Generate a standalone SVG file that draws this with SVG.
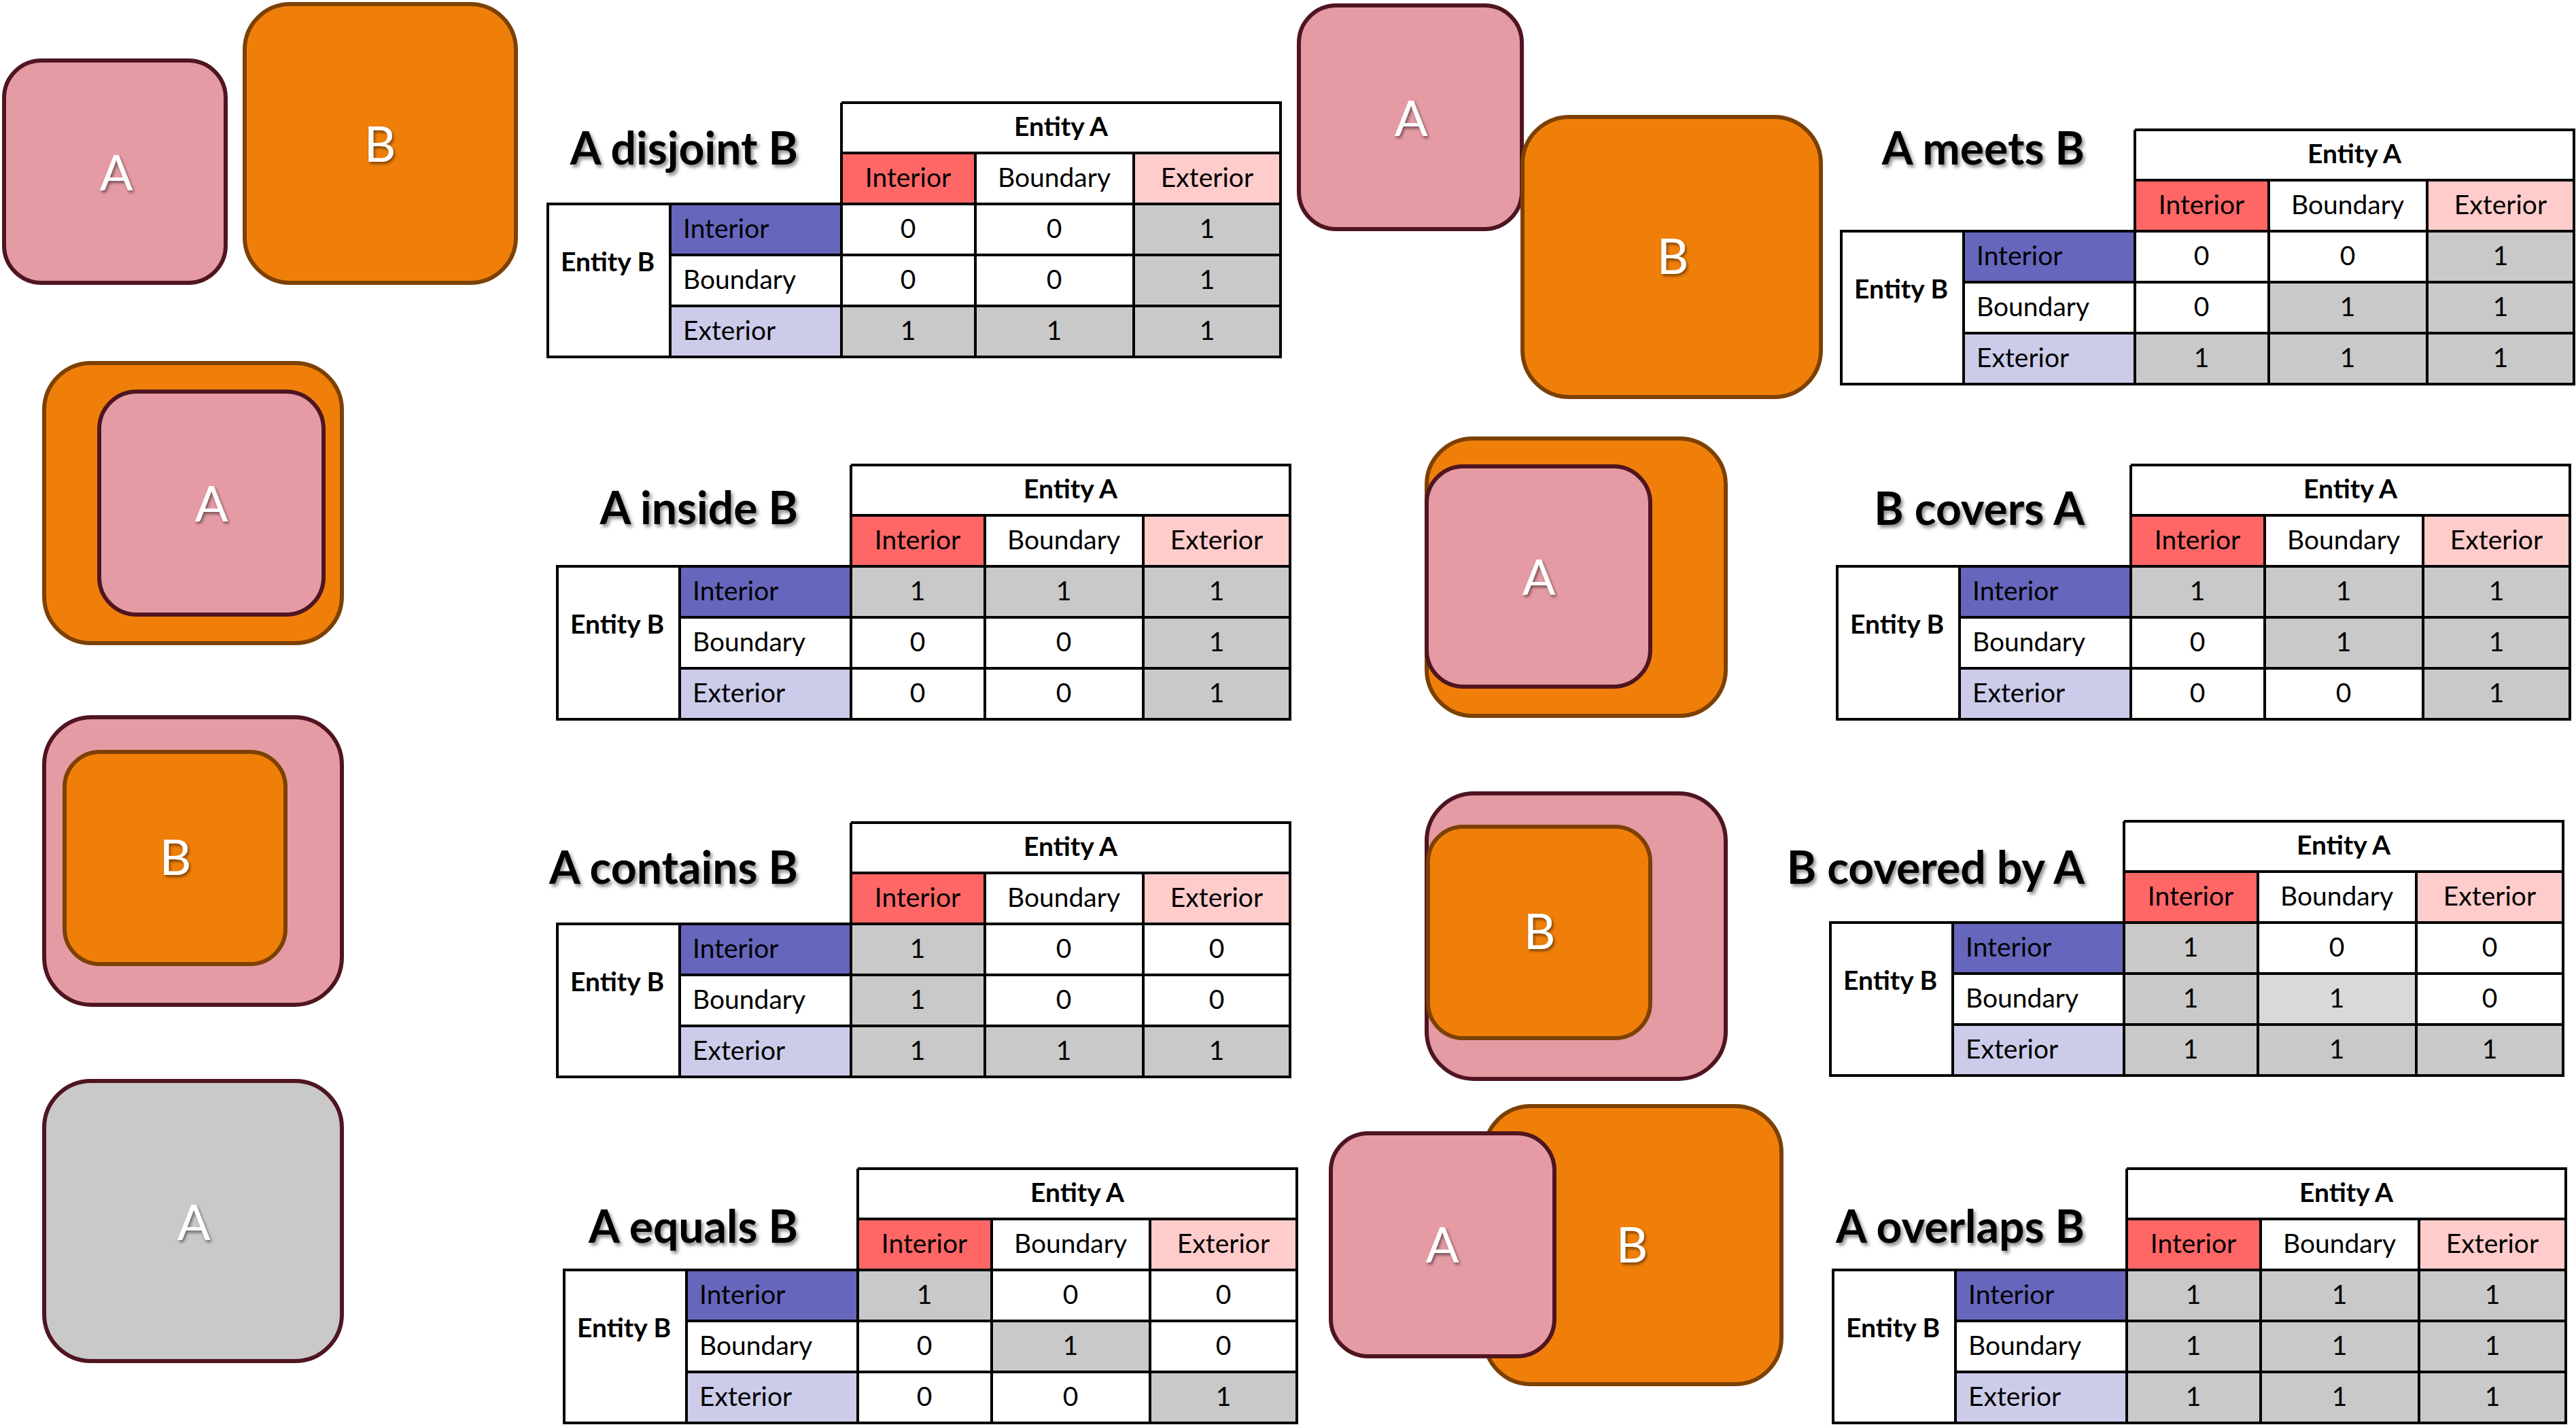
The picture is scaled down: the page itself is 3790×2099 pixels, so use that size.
<svg xmlns="http://www.w3.org/2000/svg" width="3790" height="2099" viewBox="0 0 3790 2099">
<defs>
<filter id="sh" x="-10%" y="-20%" width="130%" height="160%">
<feDropShadow dx="3" dy="4" stdDeviation="2.5" flood-color="#000" flood-opacity="0.45"/>
</filter>
<filter id="sh2" x="-20%" y="-20%" width="150%" height="150%">
<feDropShadow dx="2" dy="3" stdDeviation="2" flood-color="#000" flood-opacity="0.5"/>
</filter>
</defs>
<style>
text{font-family:Lato,"Liberation Sans",sans-serif;fill:#000}
.t{font-size:39px}
.m{text-anchor:middle}
.b{font-weight:bold}
.title{font-size:66px;font-weight:bold;text-anchor:end;filter:url(#sh)}
.lbl{font-size:72px;fill:#fff;text-anchor:middle;filter:url(#sh2)}
.w{fill:#fff}
.ci{fill:#FF6666}
.ce{fill:#FFCCCC}
.ri{fill:#6666BD}
.re{fill:#CCCCEA}
.g{fill:#C9C9C9}
.gl{fill:#D9D9D9}
.grid{fill:none;stroke:#000;stroke-width:4}
.pa{fill:#E59BA4;stroke:#4F1520;stroke-width:6}
.ob{fill:#F07F0A;stroke:#7C4103;stroke-width:6}
.gr{fill:#C9C9C9;stroke:#4F1520;stroke-width:6}
</style>

<!-- Shapes -->
<g id="shape-disjoint">
<rect class="pa" x="6" y="89" width="326" height="327" rx="55"/>
<text class="lbl" x="171" y="280">A</text>
<rect class="ob" x="360" y="6" width="399" height="410" rx="67"/>
<text class="lbl" x="559" y="238">B</text>
</g>
<g id="shape-meets">
<rect class="pa" x="1911" y="8" width="328" height="329" rx="55"/>
<text class="lbl" x="2076" y="200">A</text>
<rect class="ob" x="2240" y="172" width="439" height="412" rx="69"/>
<text class="lbl" x="2461" y="403">B</text>
</g>
<g id="shape-inside">
<rect class="ob" x="65" y="534" width="438" height="412" rx="69"/>
<rect class="pa" x="146" y="576" width="330" height="328" rx="55"/>
<text class="lbl" x="311" y="767">A</text>
</g>
<g id="shape-covers">
<rect class="ob" x="2099" y="645" width="440" height="408" rx="68"/>
<rect class="pa" x="2099" y="686" width="329" height="324" rx="54"/>
<text class="lbl" x="2264" y="875">A</text>
</g>
<g id="shape-contains">
<rect class="pa" x="65" y="1055" width="438" height="423" rx="70"/>
<rect class="ob" x="95" y="1106" width="325" height="312" rx="52"/>
<text class="lbl" x="258" y="1287">B</text>
</g>
<g id="shape-coveredby">
<rect class="pa" x="2099" y="1167" width="440" height="420" rx="70"/>
<rect class="ob" x="2101" y="1216" width="327" height="311" rx="52"/>
<text class="lbl" x="2265" y="1396">B</text>
</g>
<g id="shape-equals">
<rect class="gr" x="65" y="1590" width="438" height="412" rx="69"/>
<text class="lbl" x="285" y="1824">A</text>
</g>
<g id="shape-overlaps">
<rect class="ob" x="2184" y="1627" width="437" height="409" rx="68"/>
<rect class="pa" x="1958" y="1667" width="329" height="328" rx="55"/>
<text class="lbl" x="2122" y="1857">A</text>
<text class="lbl" x="2401" y="1857">B</text>
</g>

<!-- Titles -->
<g id="titles">
<text class="title" x="1174" y="242">A disjoint B</text>
<text class="title" x="1174" y="771">A inside B</text>
<text class="title" x="1174" y="1300">A contains B</text>
<text class="title" x="1174" y="1828">A equals B</text>
<text class="title" x="3067" y="242">A meets B</text>
<text class="title" x="3067" y="772">B covers A</text>
<text class="title" x="3067" y="1300">B covered by A</text>
<text class="title" x="3067" y="1828">A overlaps B</text>
</g>

<!-- Table 1: disjoint -->
<g id="table-disjoint" transform="translate(806,151)">
<rect class="w" x="432" y="0" width="646" height="74"/>
<rect class="ci" x="432" y="74" width="197" height="75"/><rect class="w" x="629" y="74" width="233" height="75"/><rect class="ce" x="862" y="74" width="216" height="75"/>
<rect class="w" x="0" y="149" width="180" height="225"/>
<rect class="ri" x="180" y="149" width="252" height="75"/><rect class="w" x="180" y="224" width="252" height="75"/><rect class="re" x="180" y="299" width="252" height="75"/>
<rect class="w" x="432" y="149" width="197" height="75"/><rect class="w" x="629" y="149" width="233" height="75"/><rect class="g" x="862" y="149" width="216" height="75"/>
<rect class="w" x="432" y="224" width="197" height="75"/><rect class="w" x="629" y="224" width="233" height="75"/><rect class="g" x="862" y="224" width="216" height="75"/>
<rect class="g" x="432" y="299" width="197" height="75"/><rect class="g" x="629" y="299" width="233" height="75"/><rect class="g" x="862" y="299" width="216" height="75"/>
<path class="grid" d="M432,0H1078V374H0V149H1078M432,0V374M432,74H1078M629,74V374M862,74V374M180,149V374M180,224H1078M180,299H1078"/>
<text class="t b m" x="755" y="49">Entity A</text>
<text class="t m" x="530" y="124">Interior</text><text class="t m" x="745" y="124">Boundary</text><text class="t m" x="970" y="124">Exterior</text>
<text class="t b" x="19" y="248">Entity B</text>
<text class="t" x="199" y="199">Interior</text><text class="t" x="199" y="274">Boundary</text><text class="t" x="199" y="349">Exterior</text>
<text class="t m" x="530" y="199">0</text><text class="t m" x="745" y="199">0</text><text class="t m" x="970" y="199">1</text>
<text class="t m" x="530" y="274">0</text><text class="t m" x="745" y="274">0</text><text class="t m" x="970" y="274">1</text>
<text class="t m" x="530" y="349">1</text><text class="t m" x="745" y="349">1</text><text class="t m" x="970" y="349">1</text>
</g>

<!-- Table 2: meets -->
<g id="table-meets" transform="translate(2709,191)">
<rect class="w" x="432" y="0" width="646" height="74"/>
<rect class="ci" x="432" y="74" width="197" height="75"/><rect class="w" x="629" y="74" width="233" height="75"/><rect class="ce" x="862" y="74" width="216" height="75"/>
<rect class="w" x="0" y="149" width="180" height="225"/>
<rect class="ri" x="180" y="149" width="252" height="75"/><rect class="w" x="180" y="224" width="252" height="75"/><rect class="re" x="180" y="299" width="252" height="75"/>
<rect class="w" x="432" y="149" width="197" height="75"/><rect class="w" x="629" y="149" width="233" height="75"/><rect class="g" x="862" y="149" width="216" height="75"/>
<rect class="w" x="432" y="224" width="197" height="75"/><rect class="g" x="629" y="224" width="233" height="75"/><rect class="g" x="862" y="224" width="216" height="75"/>
<rect class="g" x="432" y="299" width="197" height="75"/><rect class="g" x="629" y="299" width="233" height="75"/><rect class="g" x="862" y="299" width="216" height="75"/>
<path class="grid" d="M432,0H1078V374H0V149H1078M432,0V374M432,74H1078M629,74V374M862,74V374M180,149V374M180,224H1078M180,299H1078"/>
<text class="t b m" x="755" y="49">Entity A</text>
<text class="t m" x="530" y="124">Interior</text><text class="t m" x="745" y="124">Boundary</text><text class="t m" x="970" y="124">Exterior</text>
<text class="t b" x="19" y="248">Entity B</text>
<text class="t" x="199" y="199">Interior</text><text class="t" x="199" y="274">Boundary</text><text class="t" x="199" y="349">Exterior</text>
<text class="t m" x="530" y="199">0</text><text class="t m" x="745" y="199">0</text><text class="t m" x="970" y="199">1</text>
<text class="t m" x="530" y="274">0</text><text class="t m" x="745" y="274">1</text><text class="t m" x="970" y="274">1</text>
<text class="t m" x="530" y="349">1</text><text class="t m" x="745" y="349">1</text><text class="t m" x="970" y="349">1</text>
</g>

<!-- Table 3: inside -->
<g id="table-inside" transform="translate(820,684)">
<rect class="w" x="432" y="0" width="646" height="74"/>
<rect class="ci" x="432" y="74" width="197" height="75"/><rect class="w" x="629" y="74" width="233" height="75"/><rect class="ce" x="862" y="74" width="216" height="75"/>
<rect class="w" x="0" y="149" width="180" height="225"/>
<rect class="ri" x="180" y="149" width="252" height="75"/><rect class="w" x="180" y="224" width="252" height="75"/><rect class="re" x="180" y="299" width="252" height="75"/>
<rect class="g" x="432" y="149" width="197" height="75"/><rect class="g" x="629" y="149" width="233" height="75"/><rect class="g" x="862" y="149" width="216" height="75"/>
<rect class="w" x="432" y="224" width="197" height="75"/><rect class="w" x="629" y="224" width="233" height="75"/><rect class="g" x="862" y="224" width="216" height="75"/>
<rect class="w" x="432" y="299" width="197" height="75"/><rect class="w" x="629" y="299" width="233" height="75"/><rect class="g" x="862" y="299" width="216" height="75"/>
<path class="grid" d="M432,0H1078V374H0V149H1078M432,0V374M432,74H1078M629,74V374M862,74V374M180,149V374M180,224H1078M180,299H1078"/>
<text class="t b m" x="755" y="49">Entity A</text>
<text class="t m" x="530" y="124">Interior</text><text class="t m" x="745" y="124">Boundary</text><text class="t m" x="970" y="124">Exterior</text>
<text class="t b" x="19" y="248">Entity B</text>
<text class="t" x="199" y="199">Interior</text><text class="t" x="199" y="274">Boundary</text><text class="t" x="199" y="349">Exterior</text>
<text class="t m" x="530" y="199">1</text><text class="t m" x="745" y="199">1</text><text class="t m" x="970" y="199">1</text>
<text class="t m" x="530" y="274">0</text><text class="t m" x="745" y="274">0</text><text class="t m" x="970" y="274">1</text>
<text class="t m" x="530" y="349">0</text><text class="t m" x="745" y="349">0</text><text class="t m" x="970" y="349">1</text>
</g>

<!-- Table 4: covers -->
<g id="table-covers" transform="translate(2703,684)">
<rect class="w" x="432" y="0" width="646" height="74"/>
<rect class="ci" x="432" y="74" width="197" height="75"/><rect class="w" x="629" y="74" width="233" height="75"/><rect class="ce" x="862" y="74" width="216" height="75"/>
<rect class="w" x="0" y="149" width="180" height="225"/>
<rect class="ri" x="180" y="149" width="252" height="75"/><rect class="w" x="180" y="224" width="252" height="75"/><rect class="re" x="180" y="299" width="252" height="75"/>
<rect class="g" x="432" y="149" width="197" height="75"/><rect class="g" x="629" y="149" width="233" height="75"/><rect class="g" x="862" y="149" width="216" height="75"/>
<rect class="w" x="432" y="224" width="197" height="75"/><rect class="g" x="629" y="224" width="233" height="75"/><rect class="g" x="862" y="224" width="216" height="75"/>
<rect class="w" x="432" y="299" width="197" height="75"/><rect class="w" x="629" y="299" width="233" height="75"/><rect class="g" x="862" y="299" width="216" height="75"/>
<path class="grid" d="M432,0H1078V374H0V149H1078M432,0V374M432,74H1078M629,74V374M862,74V374M180,149V374M180,224H1078M180,299H1078"/>
<text class="t b m" x="755" y="49">Entity A</text>
<text class="t m" x="530" y="124">Interior</text><text class="t m" x="745" y="124">Boundary</text><text class="t m" x="970" y="124">Exterior</text>
<text class="t b" x="19" y="248">Entity B</text>
<text class="t" x="199" y="199">Interior</text><text class="t" x="199" y="274">Boundary</text><text class="t" x="199" y="349">Exterior</text>
<text class="t m" x="530" y="199">1</text><text class="t m" x="745" y="199">1</text><text class="t m" x="970" y="199">1</text>
<text class="t m" x="530" y="274">0</text><text class="t m" x="745" y="274">1</text><text class="t m" x="970" y="274">1</text>
<text class="t m" x="530" y="349">0</text><text class="t m" x="745" y="349">0</text><text class="t m" x="970" y="349">1</text>
</g>

<!-- Table 5: contains -->
<g id="table-contains" transform="translate(820,1210)">
<rect class="w" x="432" y="0" width="646" height="74"/>
<rect class="ci" x="432" y="74" width="197" height="75"/><rect class="w" x="629" y="74" width="233" height="75"/><rect class="ce" x="862" y="74" width="216" height="75"/>
<rect class="w" x="0" y="149" width="180" height="225"/>
<rect class="ri" x="180" y="149" width="252" height="75"/><rect class="w" x="180" y="224" width="252" height="75"/><rect class="re" x="180" y="299" width="252" height="75"/>
<rect class="g" x="432" y="149" width="197" height="75"/><rect class="w" x="629" y="149" width="233" height="75"/><rect class="w" x="862" y="149" width="216" height="75"/>
<rect class="g" x="432" y="224" width="197" height="75"/><rect class="w" x="629" y="224" width="233" height="75"/><rect class="w" x="862" y="224" width="216" height="75"/>
<rect class="g" x="432" y="299" width="197" height="75"/><rect class="g" x="629" y="299" width="233" height="75"/><rect class="g" x="862" y="299" width="216" height="75"/>
<path class="grid" d="M432,0H1078V374H0V149H1078M432,0V374M432,74H1078M629,74V374M862,74V374M180,149V374M180,224H1078M180,299H1078"/>
<text class="t b m" x="755" y="49">Entity A</text>
<text class="t m" x="530" y="124">Interior</text><text class="t m" x="745" y="124">Boundary</text><text class="t m" x="970" y="124">Exterior</text>
<text class="t b" x="19" y="248">Entity B</text>
<text class="t" x="199" y="199">Interior</text><text class="t" x="199" y="274">Boundary</text><text class="t" x="199" y="349">Exterior</text>
<text class="t m" x="530" y="199">1</text><text class="t m" x="745" y="199">0</text><text class="t m" x="970" y="199">0</text>
<text class="t m" x="530" y="274">1</text><text class="t m" x="745" y="274">0</text><text class="t m" x="970" y="274">0</text>
<text class="t m" x="530" y="349">1</text><text class="t m" x="745" y="349">1</text><text class="t m" x="970" y="349">1</text>
</g>

<!-- Table 6: covered by -->
<g id="table-coveredby" transform="translate(2693,1208)">
<rect class="w" x="432" y="0" width="646" height="74"/>
<rect class="ci" x="432" y="74" width="197" height="75"/><rect class="w" x="629" y="74" width="233" height="75"/><rect class="ce" x="862" y="74" width="216" height="75"/>
<rect class="w" x="0" y="149" width="180" height="225"/>
<rect class="ri" x="180" y="149" width="252" height="75"/><rect class="w" x="180" y="224" width="252" height="75"/><rect class="re" x="180" y="299" width="252" height="75"/>
<rect class="g" x="432" y="149" width="197" height="75"/><rect class="w" x="629" y="149" width="233" height="75"/><rect class="w" x="862" y="149" width="216" height="75"/>
<rect class="g" x="432" y="224" width="197" height="75"/><rect class="gl" x="629" y="224" width="233" height="75"/><rect class="w" x="862" y="224" width="216" height="75"/>
<rect class="g" x="432" y="299" width="197" height="75"/><rect class="g" x="629" y="299" width="233" height="75"/><rect class="g" x="862" y="299" width="216" height="75"/>
<path class="grid" d="M432,0H1078V374H0V149H1078M432,0V374M432,74H1078M629,74V374M862,74V374M180,149V374M180,224H1078M180,299H1078"/>
<text class="t b m" x="755" y="49">Entity A</text>
<text class="t m" x="530" y="124">Interior</text><text class="t m" x="745" y="124">Boundary</text><text class="t m" x="970" y="124">Exterior</text>
<text class="t b" x="19" y="248">Entity B</text>
<text class="t" x="199" y="199">Interior</text><text class="t" x="199" y="274">Boundary</text><text class="t" x="199" y="349">Exterior</text>
<text class="t m" x="530" y="199">1</text><text class="t m" x="745" y="199">0</text><text class="t m" x="970" y="199">0</text>
<text class="t m" x="530" y="274">1</text><text class="t m" x="745" y="274">1</text><text class="t m" x="970" y="274">0</text>
<text class="t m" x="530" y="349">1</text><text class="t m" x="745" y="349">1</text><text class="t m" x="970" y="349">1</text>
</g>

<!-- Table 7: equals -->
<g id="table-equals" transform="translate(830,1719)">
<rect class="w" x="432" y="0" width="646" height="74"/>
<rect class="ci" x="432" y="74" width="197" height="75"/><rect class="w" x="629" y="74" width="233" height="75"/><rect class="ce" x="862" y="74" width="216" height="75"/>
<rect class="w" x="0" y="149" width="180" height="225"/>
<rect class="ri" x="180" y="149" width="252" height="75"/><rect class="w" x="180" y="224" width="252" height="75"/><rect class="re" x="180" y="299" width="252" height="75"/>
<rect class="g" x="432" y="149" width="197" height="75"/><rect class="w" x="629" y="149" width="233" height="75"/><rect class="w" x="862" y="149" width="216" height="75"/>
<rect class="w" x="432" y="224" width="197" height="75"/><rect class="g" x="629" y="224" width="233" height="75"/><rect class="w" x="862" y="224" width="216" height="75"/>
<rect class="w" x="432" y="299" width="197" height="75"/><rect class="w" x="629" y="299" width="233" height="75"/><rect class="g" x="862" y="299" width="216" height="75"/>
<path class="grid" d="M432,0H1078V374H0V149H1078M432,0V374M432,74H1078M629,74V374M862,74V374M180,149V374M180,224H1078M180,299H1078"/>
<text class="t b m" x="755" y="49">Entity A</text>
<text class="t m" x="530" y="124">Interior</text><text class="t m" x="745" y="124">Boundary</text><text class="t m" x="970" y="124">Exterior</text>
<text class="t b" x="19" y="248">Entity B</text>
<text class="t" x="199" y="199">Interior</text><text class="t" x="199" y="274">Boundary</text><text class="t" x="199" y="349">Exterior</text>
<text class="t m" x="530" y="199">1</text><text class="t m" x="745" y="199">0</text><text class="t m" x="970" y="199">0</text>
<text class="t m" x="530" y="274">0</text><text class="t m" x="745" y="274">1</text><text class="t m" x="970" y="274">0</text>
<text class="t m" x="530" y="349">0</text><text class="t m" x="745" y="349">0</text><text class="t m" x="970" y="349">1</text>
</g>

<!-- Table 8: overlaps -->
<g id="table-overlaps" transform="translate(2697,1719)">
<rect class="w" x="432" y="0" width="646" height="74"/>
<rect class="ci" x="432" y="74" width="197" height="75"/><rect class="w" x="629" y="74" width="233" height="75"/><rect class="ce" x="862" y="74" width="216" height="75"/>
<rect class="w" x="0" y="149" width="180" height="225"/>
<rect class="ri" x="180" y="149" width="252" height="75"/><rect class="w" x="180" y="224" width="252" height="75"/><rect class="re" x="180" y="299" width="252" height="75"/>
<rect class="g" x="432" y="149" width="197" height="75"/><rect class="g" x="629" y="149" width="233" height="75"/><rect class="g" x="862" y="149" width="216" height="75"/>
<rect class="g" x="432" y="224" width="197" height="75"/><rect class="g" x="629" y="224" width="233" height="75"/><rect class="g" x="862" y="224" width="216" height="75"/>
<rect class="g" x="432" y="299" width="197" height="75"/><rect class="g" x="629" y="299" width="233" height="75"/><rect class="g" x="862" y="299" width="216" height="75"/>
<path class="grid" d="M432,0H1078V374H0V149H1078M432,0V374M432,74H1078M629,74V374M862,74V374M180,149V374M180,224H1078M180,299H1078"/>
<text class="t b m" x="755" y="49">Entity A</text>
<text class="t m" x="530" y="124">Interior</text><text class="t m" x="745" y="124">Boundary</text><text class="t m" x="970" y="124">Exterior</text>
<text class="t b" x="19" y="248">Entity B</text>
<text class="t" x="199" y="199">Interior</text><text class="t" x="199" y="274">Boundary</text><text class="t" x="199" y="349">Exterior</text>
<text class="t m" x="530" y="199">1</text><text class="t m" x="745" y="199">1</text><text class="t m" x="970" y="199">1</text>
<text class="t m" x="530" y="274">1</text><text class="t m" x="745" y="274">1</text><text class="t m" x="970" y="274">1</text>
<text class="t m" x="530" y="349">1</text><text class="t m" x="745" y="349">1</text><text class="t m" x="970" y="349">1</text>
</g>
</svg>
